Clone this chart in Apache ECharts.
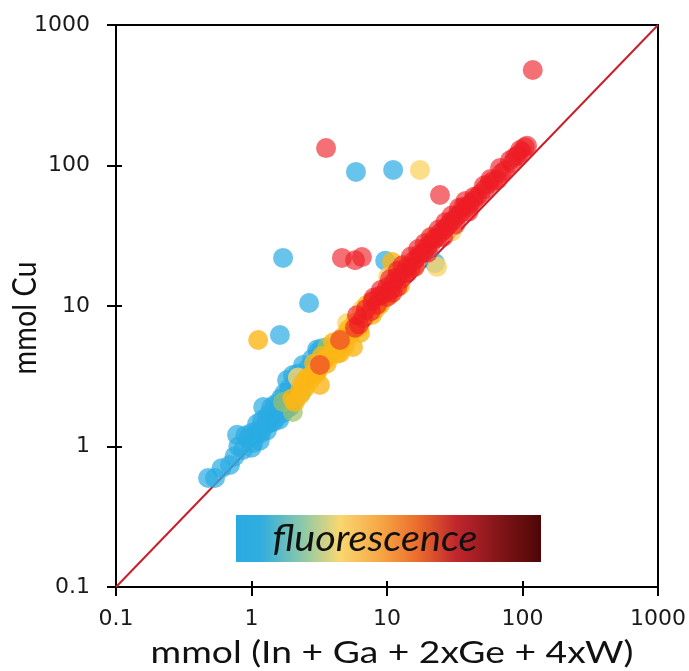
<!DOCTYPE html>
<html><head><meta charset="utf-8">
<script src="https://cdn.jsdelivr.net/npm/echarts@6/dist/echarts.min.js"></script>
<style>html,body{margin:0;padding:0;background:#fff}#c{width:689px;height:671px}</style>
</head><body><div id="c"></div>
<script>
const xTickLabels = ['0.1', '1', '10', '100', '1000'];
const yTickLabels = ['0.1', '1', '10', '100', '1000'];
const xTitle = 'mmol (In + Ga + 2xGe + 4xW)';
const yTitle = 'mmol Cu';
const barLabel = 'fluorescence';
const oneToOne = [[0.1, 0.1], [1000, 1000]];

const bluePts = [
  [0.478, 0.597], [0.538, 0.597], [0.6, 0.7], [0.693, 0.738], [0.75, 0.85], [0.782, 1.21],
  [0.8, 1.0], [0.865, 0.944], [0.9, 1.2], [0.95, 1.15], [1.0, 0.98], [1.0, 1.25], [1.03, 1.06],
  [1.08, 1.2], [1.1, 1.45], [1.12, 1.31], [1.15, 1.1], [1.18, 1.25], [1.2, 1.55], [1.22, 1.91],
  [1.25, 1.4], [1.3, 1.3], [1.3, 1.6], [1.35, 1.7], [1.37, 1.47], [1.4, 1.9], [1.45, 1.5],
  [1.5, 2.0], [1.54, 1.62], [1.6, 1.55], [1.6, 1.85], [1.65, 2.2], [1.71, 1.73], [1.75, 2.4],
  [1.8, 1.85], [1.83, 2.97], [1.9, 2.1], [1.9, 2.6], [1.92, 1.91], [2.02, 3.23], [2.1, 2.2],
  [2.1, 2.9], [2.2, 2.5], [2.2, 3.3], [2.3, 2.8], [2.4, 3.8], [2.5, 3.0], [2.6, 3.6], [2.8, 4.2],
  [3.05, 4.9], [3.1, 4.7], [3.3, 5.0],
  [1.71, 22.0], [2.66, 10.5], [1.62, 6.22], [5.9, 90], [11.1, 93], [9.7, 21.0], [22.6, 20.2]
];
const greenPts = [[1.71, 2.07], [2.02, 1.76], [3.61, 5.11], [2.35, 2.45]];
const paleYellowPts = [
  [17.5, 93], [5.07, 7.57], [10.2, 16.1], [21.8, 31], [23.4, 19.0], [2.2, 3.1], [12, 17],
  [14, 20], [16, 19], [8, 11], [6.5, 9.4], [30, 34]
];
const goldPts = [
  [2.0, 2.2], [2.09, 2.07], [2.28, 2.33], [2.3, 2.6], [2.45, 2.9], [2.48, 2.61], [2.6, 3.1],
  [2.70, 2.97], [2.85, 3.28], [2.9, 3.9], [3.0, 3.3], [3.10, 3.50], [3.20, 2.74], [3.3, 4.4],
  [3.49, 4.13], [3.6, 3.9], [3.80, 4.48], [4.0, 5.5], [4.13, 4.86], [4.3, 4.6], [4.4, 5.0],
  [4.50, 4.63], [4.7, 6.0], [4.90, 5.27], [5.2, 6.8], [5.33, 6.22], [5.61, 5.11], [5.8, 7.6],
  [6.2, 7.0], [6.32, 6.43], [6.8, 8.6], [7.11, 10.2], [7.4, 9.3], [7.74, 8.63], [8.2, 9.5],
  [8.87, 10.2], [9.2, 11], [10.5, 12], [12.5, 14],
  [10.9, 20.6], [1.12, 5.73]
];
const orangePts = [[3.2, 3.8], [4.5, 5.73]];
const redPts = [
  [5.8, 7.0], [6.0, 8.6], [6.2, 7.4], [6.65, 8.22], [7.0, 9.5], [7.6, 9.2], [7.8, 10.8],
  [8.0, 11.5], [8.44, 10.2], [8.8, 11.8], [9.0, 13], [9.5, 12.2], [10.0, 11.6], [10.0, 13.6],
  [10.5, 15.5], [10.6, 13.0], [11.0, 12.5], [11.2, 14.8], [11.9, 13.6], [11.9, 16.0],
  [12.0, 17.8], [12.6, 15.5], [13.0, 19.5], [13.4, 17.2], [14.1, 17.2], [14.1, 19.0],
  [15.0, 18.6], [15.0, 22.5], [15.8, 21.0], [16.0, 19.0], [16.8, 22.0], [17.0, 25.5],
  [17.6, 23.5], [18.6, 24.0], [19.0, 28.0], [19.7, 26.3], [20.0, 24.0], [21.0, 27.5],
  [21.0, 31.0], [22.3, 30.0], [23.5, 30.5], [24.0, 35.0], [25.0, 33.5], [26.0, 31.0],
  [26.5, 35.0], [27.0, 39.5], [28.0, 37.0], [29.2, 39.0], [30.0, 44.0], [31.0, 41.0],
  [32.0, 38.0], [33.0, 44.0], [34.0, 50.0], [35.0, 45.5], [36.4, 50.7], [38.0, 56.0],
  [38.5, 50.0], [40.0, 47.0], [41.0, 53.0], [43.5, 56.0], [44.0, 60.0], [46.1, 59.7],
  [49.0, 63.0], [52.0, 72.0], [53.0, 68.0], [57.0, 74.0], [58.0, 80.0], [61.0, 78.0],
  [64.9, 78.9], [68.2, 96.0], [70.0, 88.0], [74.0, 92.0], [80.9, 109], [84.0, 104],
  [88.0, 115], [92.0, 118], [95.9, 129], [99.1, 125], [104, 135], [108, 138],
  [119, 478], [3.55, 133], [24.6, 61.7], [4.65, 22.0], [5.81, 21.2], [6.53, 22.3]
];

const chart = echarts.init(document.getElementById('c'), null, {renderer: 'canvas'});
const tickFont = {fontFamily: 'DejaVu Sans', fontSize: 22, color: '#1a1a1a'};
function mkX(main) {
  return {
    type: 'log', logBase: 10, min: 0.1, max: 1000, position: 'bottom',
    axisLine: {show: main, onZero: false, lineStyle: {color: '#000', width: 2}},
    axisTick: {show: true, inside: !main, length: main ? 9 : 6, lineStyle: {color: '#000', width: 2}},
    axisLabel: main ? Object.assign({margin: 21, formatter: (v, i) => xTickLabels[i]}, tickFont) : {show: false},
    splitLine: {show: false}, minorTick: {show: false}
  };
}
function mkY(main) {
  return {
    type: 'log', logBase: 10, min: 0.1, max: 1000, position: 'left',
    axisLine: {show: main, onZero: false, lineStyle: {color: '#000', width: 2}},
    axisTick: {show: true, inside: !main, length: main ? 9 : 6, lineStyle: {color: '#000', width: 2}},
    axisLabel: main ? Object.assign({margin: 26, formatter: (v, i) => yTickLabels[i]}, tickFont) : {show: false},
    splitLine: {show: false}
  };
}
function pts(data, color, opacity, z) {
  return {
    type: 'scatter', data: data, symbol: 'circle', symbolSize: 20, z: z,
    itemStyle: {color: color, opacity: opacity}, silent: true, animation: false
  };
}
chart.setOption({
  animation: false,
  backgroundColor: '#fff',
  grid: {left: 116, right: 31, top: 25, bottom: 84, show: true, borderColor: '#000', borderWidth: 2, backgroundColor: '#fff'},
  xAxis: [mkX(true), mkX(false)],
  yAxis: [mkY(true), mkY(false)],
  series: [
    {type: 'line', data: oneToOne, showSymbol: false, symbol: 'none', z: 1,
     lineStyle: {color: '#c8202a', width: 2}, silent: true},
    pts(bluePts, '#29abe2', 0.7, 2),
    pts(greenPts, '#9cc067', 0.7, 3),
    pts(paleYellowPts, '#fbd46a', 0.8, 3),
    pts(goldPts, '#fbb617', 0.8, 4),
    pts(orangePts, '#f15a24', 0.85, 5),
    pts(redPts, '#ed1c24', 0.63, 6)
  ],
  graphic: [
    {type: 'rect', shape: {x: 236, y: 515, width: 305, height: 47}, z: 50,
     style: {fill: new echarts.graphic.LinearGradient(0, 0, 1, 0, [
       {offset: 0, color: '#29abe2'}, {offset: 0.08, color: '#2fade0'},
       {offset: 0.22, color: '#8ec9a8'}, {offset: 0.34, color: '#f9d770'},
       {offset: 0.48, color: '#f6a443'}, {offset: 0.6, color: '#ea6a2c'},
       {offset: 0.72, color: '#c1272d'}, {offset: 0.85, color: '#88171a'},
       {offset: 1, color: '#4e0606'}])}},
    {type: 'text', x: 375, y: 539, z: 51, scaleX: 1.1, scaleY: 1,
     style: {text: barLabel, fontFamily: 'Lato', fontStyle: 'italic', fontSize: 36, fill: '#111',
             align: 'center', verticalAlign: 'middle'}},
    {type: 'text', x: 392, y: 653, z: 51, scaleX: 1.2, scaleY: 1,
     style: {text: xTitle, fontFamily: 'Lato', fontSize: 31, fill: '#111', align: 'center', verticalAlign: 'middle'}},
    {type: 'text', x: 26, y: 318, rotation: Math.PI / 2, z: 51, scaleX: 0.9, scaleY: 1,
     style: {text: yTitle, fontFamily: 'Lato', fontSize: 32, fill: '#111', align: 'center', verticalAlign: 'middle'}}
  ]
});
</script></body></html>
